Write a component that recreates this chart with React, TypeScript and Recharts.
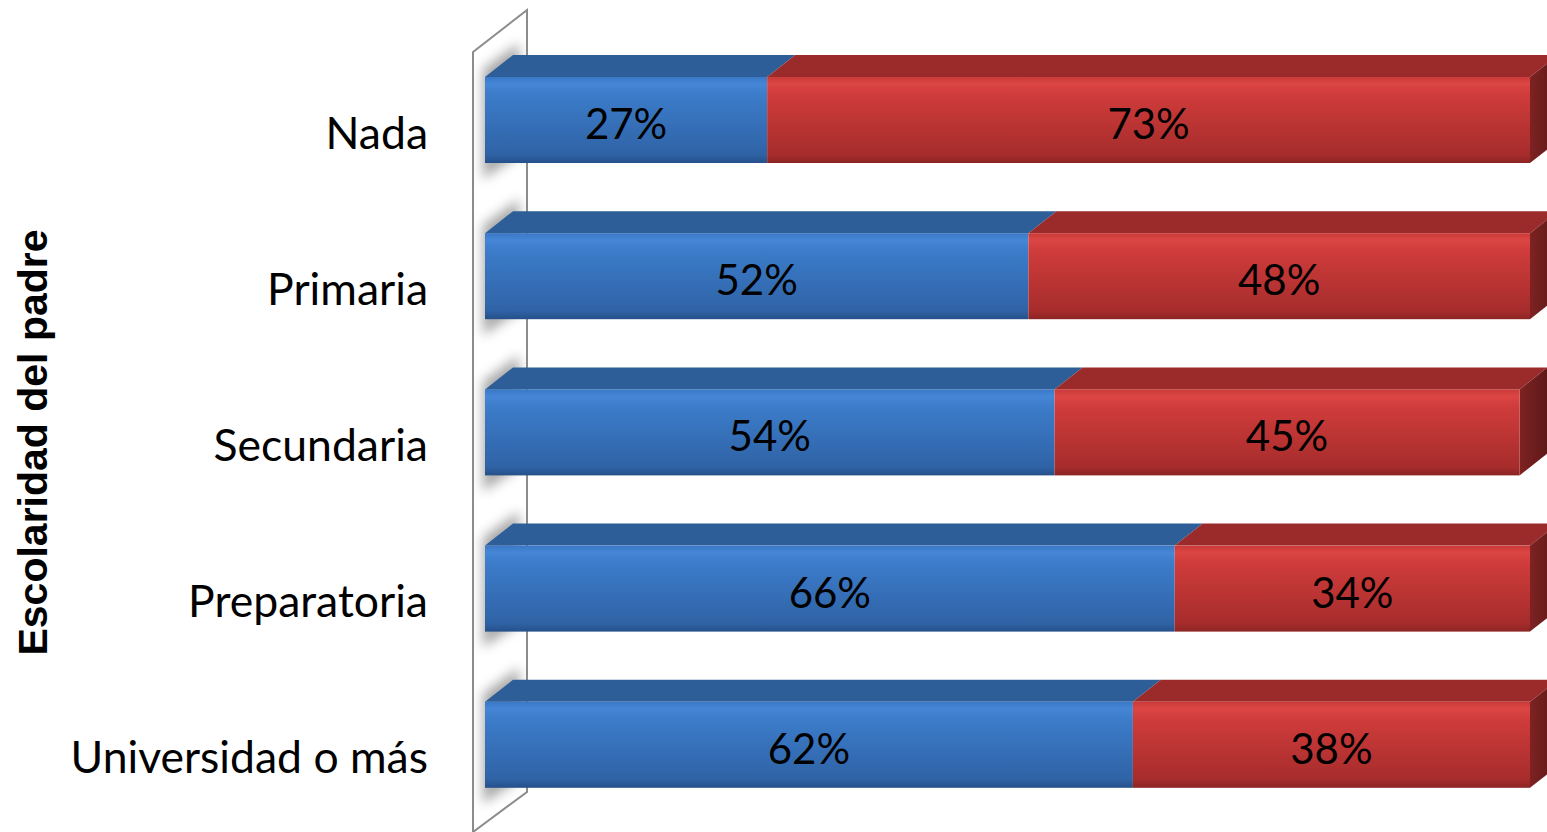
import React from 'react';
import { BarChart, Bar, XAxis, YAxis, LabelList } from 'recharts';

const categories = ['Nada', 'Primaria', 'Secundaria', 'Preparatoria', 'Universidad o más'];
const blueValues = [27, 52, 54.5, 66, 62];
const redValues = [73, 48, 44.5, 34, 38];
const blueLabels = ['27%', '52%', '54%', '66%', '62%'];
const redLabels = ['73%', '48%', '45%', '34%', '38%'];
const axisTitle = 'Escolaridad del padre';

const data = categories.map((c, i) => ({
  name: c,
  blue: blueValues[i],
  red: redValues[i],
  blueLabel: blueLabels[i],
  redLabel: redLabels[i],
}));

const W = 1547;
const H = 832;
const DX = 28;
const DY = 22;

const Defs = () => (
  <defs>
    <linearGradient id="blueFront" x1="0" y1="0" x2="0" y2="1">
      <stop offset="0" stopColor="#3a78c6" />
      <stop offset="0.08" stopColor="#4586d6" />
      <stop offset="0.2" stopColor="#3c7cca" />
      <stop offset="0.9" stopColor="#2f63a6" />
      <stop offset="1" stopColor="#25508a" />
    </linearGradient>
    <linearGradient id="redFront" x1="0" y1="0" x2="0" y2="1">
      <stop offset="0" stopColor="#c93a38" />
      <stop offset="0.08" stopColor="#dc4644" />
      <stop offset="0.2" stopColor="#cf3c3b" />
      <stop offset="0.9" stopColor="#a72c2c" />
      <stop offset="1" stopColor="#8c2424" />
    </linearGradient>
    <linearGradient id="redSide" x1="0" y1="0" x2="1" y2="0">
      <stop offset="0" stopColor="#7e2222" />
      <stop offset="1" stopColor="#5e1818" />
    </linearGradient>
    <filter id="blurShadow" x="-50%" y="-50%" width="200%" height="200%">
      <feGaussianBlur stdDeviation="6" />
    </filter>
    <clipPath id="wallClip">
      <polygon points={`473,52 527,10 527,800 473,832`} />
    </clipPath>
  </defs>
);

const BlueShape = (props: any) => {
  const { x, y, width, height, index } = props;
  const wl = x - 12;
  const wr = x + 42;
  return (
    <g>
      {index === 0 && <Defs />}
      {index === 0 && (
        <polygon
          points={`${wl},${y - 25} ${wr},${y - 67} ${wr},${H - 40} ${wl},${H}`}
          fill="#ffffff"
          stroke="#8c8c8c"
          strokeWidth={2}
        />
      )}
      <g clipPath="url(#wallClip)">
        <polygon
          points={`${x - 2},${y - 8} ${x + DX + 6},${y - DY - 12} ${x + DX + 6},${y + height - DY + 14} ${x - 2},${y + height + 16}`}
          fill="#6e6e6e"
          opacity={0.6}
          filter="url(#blurShadow)"
        />
      </g>
      <polygon
        points={`${x},${y} ${x + DX},${y - DY} ${x + width + DX},${y - DY} ${x + width},${y}`}
        fill="#2d5e98"
      />
      <rect x={x} y={y} width={width} height={height} fill="url(#blueFront)" />
    </g>
  );
};

const RedShape = (props: any) => {
  const { x, y, width, height } = props;
  return (
    <g>
      <polygon
        points={`${x},${y} ${x + DX},${y - DY} ${x + width + DX},${y - DY} ${x + width},${y}`}
        fill="#9b2a2a"
      />
      <polygon
        points={`${x + width},${y} ${x + width + DX},${y - DY} ${x + width + DX},${y + height - DY} ${x + width},${y + height}`}
        fill="url(#redSide)"
      />
      <rect x={x} y={y} width={width} height={height} fill="url(#redFront)" />
    </g>
  );
};

const PctLabel = (props: any) => {
  const { x, y, width, height, value } = props;
  return (
    <text
      x={x + width / 2}
      y={y + height / 2 + 3}
      textAnchor="middle"
      dominantBaseline="central"
      fontFamily="Lato, 'Open Sans', sans-serif"
      fontSize={42}
      fill="#000"
    >
      {value}
    </text>
  );
};

const CatTick = (props: any) => {
  const { x, y, payload } = props;
  return (
    <text
      x={x - 49}
      y={y + 11}
      textAnchor="end"
      dominantBaseline="central"
      fontFamily="Lato, 'Open Sans', sans-serif"
      fontSize={44.5}
      fill="#000"
    >
      {payload.value}
    </text>
  );
};

export default function App() {
  return (
    <div style={{ position: 'absolute', left: 0, top: 0, width: W, height: H, background: '#fff' }}>
      <BarChart
        width={W}
        height={H}
        data={data}
        layout="vertical"
        margin={{ top: 42, right: 17, bottom: 9, left: 0 }}
        barSize={86}
      >
        <XAxis type="number" domain={[0, 100]} hide />
        <YAxis
          type="category"
          dataKey="name"
          width={485}
          axisLine={false}
          tickLine={false}
          tick={<CatTick />}
          label={{
            value: axisTitle,
            angle: -90,
            position: 'insideLeft',
            offset: 0,
            content: (p: any) => {
              const vb = p.viewBox || {};
              const cy = (vb.y || 0) + (vb.height || 0) / 2 + 10;
              return (
                <text
                  x={33}
                  y={cy}
                  transform={`rotate(-90 33 ${cy})`}
                  textAnchor="middle"
                  dominantBaseline="central"
                  fontFamily="'Liberation Sans', Arial, sans-serif"
                  fontWeight="bold"
                  fontSize={41}
                  fill="#000"
                >
                  {axisTitle}
                </text>
              );
            },
          }}
        />
        <Bar dataKey="blue" stackId="a" isAnimationActive={false} shape={<BlueShape />}>
          <LabelList dataKey="blueLabel" content={<PctLabel />} />
        </Bar>
        <Bar dataKey="red" stackId="a" isAnimationActive={false} shape={<RedShape />}>
          <LabelList dataKey="redLabel" content={<PctLabel />} />
        </Bar>
      </BarChart>
    </div>
  );
}
